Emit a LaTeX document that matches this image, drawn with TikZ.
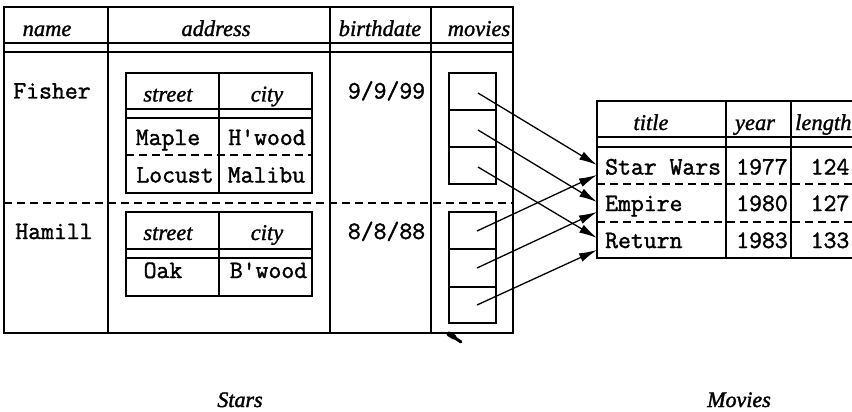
\documentclass[tikz,border=0pt]{standalone}
\usepackage{fontspec}
\setmainfont{Liberation Serif}
\newfontfamily\hdfont[FakeBold=1.3]{Liberation Serif}
\newfontfamily\lblfont[FakeBold=1.8]{Liberation Serif}
\newfontfamily\dtfont[FakeBold=1.6]{Latin Modern Mono}
\usetikzlibrary{arrows.meta}
\begin{document}
\begin{tikzpicture}[x=1pt,y=-1pt,
  hd/.style={font=\fontsize{22.5}{25}\hdfont\itshape, inner sep=0pt, anchor=base},
  lbl/.style={font=\fontsize{22}{24}\lblfont\itshape, inner sep=0pt, anchor=base},
  dt/.style={font=\fontsize{25}{27}\dtfont, inner sep=0pt, anchor=base},
  ln/.style={line width=1.5pt},
  dsh/.style={line width=1.4pt, dash pattern=on 8pt off 5pt},
  arr/.style={line width=1.3pt, -{Latex[length=18pt,width=9pt]}}]
\useasboundingbox (0,0) rectangle (852,412);
\clip (0,0) rectangle (852,412);

% ---------- Stars table ----------
\draw[ln] (4,7) rectangle (513,333);
\draw[ln] (4,43) -- (513,43) (4,52) -- (513,52);
\draw[ln] (108,7) -- (108,333) (330,7) -- (330,333) (431,7) -- (431,333);
\draw[dsh] (4,203) -- (513,203);

\node[hd] (hname) at (47,36) {name};
\node[hd] (haddr) at (216,36) {address};
\node[hd] (hbirth) at (380,36) {birthdate};
\node[hd] (hmov) at (479,36) {movies};

\node[dt] (fisher) at (52,98.5) {Fisher};
\node[dt] (hamill) at (54,239) {Hamill};
\node[dt] (bd1) at (386.5,98.5) {9/9/99};
\node[dt] (bd2) at (386.5,239) {8/8/88};

% Fisher address
\draw[ln] (126,73) rectangle (312,193);
\draw[ln] (126,109) -- (312,109) (126,118) -- (312,118) (219,73) -- (219,193);
\draw[dsh] (126,155) -- (312,155);
\node[hd] (s1) at (168,101.5) {street};
\node[hd] (c1) at (267,101.5) {city};
\node[dt] (maple) at (168,145) {Maple};
\node[dt] (hwood) at (267,145) {H'wood};
\node[dt] (locust) at (175,182.5) {Locust};
\node[dt] (malibu) at (266.5,182.5) {Malibu};

% Hamill address
\draw[ln] (126,212) rectangle (312,296);
\draw[ln] (126,249) -- (312,249) (126,258) -- (312,258) (219,212) -- (219,296);
\node[hd] (s2) at (168,240) {street};
\node[hd] (c2) at (267,240) {city};
\node[dt] (oak) at (163,278) {Oak};
\node[dt] (bwood) at (268.5,278) {B'wood};

% movie reference boxes
\draw[ln] (449,73) rectangle (496,184);
\draw[ln] (449,110) -- (496,110) (449,147) -- (496,147);
\draw[ln] (449,212) rectangle (496,323);
\draw[ln] (449,249) -- (496,249) (449,287) -- (496,287);

% smudge
\draw[line width=5pt, line cap=round] (449,334) -- (454,337);
\draw[line width=3pt, line cap=round] (452,336) -- (461,342);

% ---------- Movies table ----------
\draw[ln] (880,101) -- (597,101) -- (597,258) -- (880,258);
\draw[ln] (597,137) -- (880,137) (597,147) -- (880,147);
\draw[ln] (726,101) -- (726,258) (791,101) -- (791,258);
\draw[dsh] (597,184) -- (880,184) (597,222) -- (880,222);

\node[hd] (htitle) at (651,130) {title};
\node[hd] (hyear) at (755,130) {year};
\node[hd, anchor=base west] (hlen) at (795,130) {length};

\node[dt, anchor=base west] (sw) at (605,174.5) {Star Wars};
\node[dt, anchor=base west] (emp) at (605,211) {Empire};
\node[dt, anchor=base west] (ret) at (605,248) {Return};
\node[dt] (y1) at (762,174.5) {1977};
\node[dt] (y2) at (762,211) {1980};
\node[dt] (y3) at (762,248) {1983};
\node[dt] (l1) at (830,174.5) {124};
\node[dt] (l2) at (830,211) {127};
\node[dt] (l3) at (830,248) {133};

% ---------- arrows ----------
\coordinate (f1) at (478,93);
\coordinate (f2) at (478,130);
\coordinate (f3) at (478,167);
\coordinate (h1) at (477,231);
\coordinate (h2) at (477,268);
\coordinate (h3) at (477,305);
\coordinate (tf1) at (597,165);
\coordinate (tf2) at (597,202);
\coordinate (tf3) at (597,238);
\coordinate (th1) at (597,175);
\coordinate (th2) at (597,212);
\coordinate (th3) at (597,250);
\draw[arr] (f1) -- (tf1);
\draw[arr] (f2) -- (tf2);
\draw[arr] (f3) -- (tf3);
\draw[arr] (h1) -- (th1);
\draw[arr] (h2) -- (th2);
\draw[arr] (h3) -- (th3);

% ---------- captions ----------
\node[lbl] (stars) at (240,407) {Stars};
\node[lbl] (movies) at (739,407) {Movies};
\end{tikzpicture}
\end{document}
